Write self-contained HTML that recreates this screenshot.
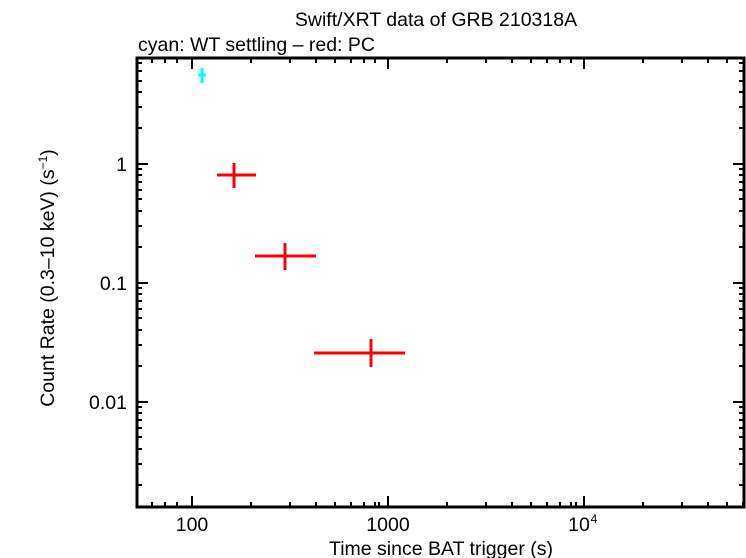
<!DOCTYPE html>
<html><head><style>body{margin:0;background:#fff}svg{display:block}text{font-family:"Liberation Sans",sans-serif}</style></head><body>
<svg width="746" height="558" xmlns="http://www.w3.org/2000/svg">
<rect width="746" height="558" fill="#fff"/>
<text x="436" y="26" font-size="19.5" text-anchor="middle">Swift/XRT data of GRB 210318A</text>
<text x="138" y="51" font-size="19.5">cyan: WT settling – red: PC</text>
<g stroke="#000" stroke-width="2">
<path d="M137,58H744V507H137Z" fill="none" stroke-width="3"/>
<path d="M192,507v-11M388,507v-11M584,507v-11M192,58v11M388,58v11M584,58v11"/>
<path d="M152,507v-5M165,507v-5M177,507v-5M251,507v-5M290,507v-5M316,507v-5M335,507v-5M351,507v-5M364,507v-5M375,507v-5M379,507v-5M447,507v-5M486,507v-5M512,507v-5M531,507v-5M547,507v-5M560,507v-5M571,507v-5M576,507v-5M643,507v-5M682,507v-5M708,507v-5M727,507v-5M743,507v-5"/>
<path d="M152,58v5M165,58v5M177,58v5M251,58v5M290,58v5M316,58v5M335,58v5M351,58v5M364,58v5M375,58v5M447,58v5M486,58v5M512,58v5M531,58v5M547,58v5M560,58v5M571,58v5M643,58v5M682,58v5M708,58v5M727,58v5"/>
<path d="M137,164h11M137,283h11M137,402h11M744,164h-11M744,283h-11M744,402h-11"/>
<path d="M137,128h5M137,107h5M137,92h5M137,81h5M137,71h5M137,63h5M137,247h5M137,226h5M137,211h5M137,199h5M137,190h5M137,182h5M137,175h5M137,169h5M137,366h5M137,345h5M137,330h5M137,318h5M137,309h5M137,301h5M137,294h5M137,288h5M137,485h5M137,464h5M137,449h5M137,437h5M137,428h5M137,420h5M137,413h5M137,407h5"/>
<path d="M744,128h-5M744,107h-5M744,92h-5M744,81h-5M744,71h-5M744,63h-5M744,247h-5M744,226h-5M744,211h-5M744,199h-5M744,190h-5M744,182h-5M744,175h-5M744,169h-5M744,366h-5M744,345h-5M744,330h-5M744,318h-5M744,309h-5M744,301h-5M744,294h-5M744,288h-5M744,485h-5M744,464h-5M744,449h-5M744,437h-5M744,428h-5M744,420h-5M744,413h-5M744,407h-5"/>
</g>
<g font-size="19.5" text-anchor="middle">
<text x="192" y="531">100</text><text x="388" y="531">1000</text><text x="579" y="531">10</text><text x="594" y="523" font-size="12">4</text>
<text x="441" y="555">Time since BAT trigger (s)</text>
</g>
<g font-size="19.5" text-anchor="end">
<text x="127" y="171">1</text><text x="127" y="290">0.1</text><text x="127" y="409">0.01</text>
</g>
<text transform="translate(54,278) rotate(-90)" font-size="19.5" text-anchor="middle">Count Rate (0.3–10 keV) (s<tspan font-size="12" dy="-7">−1</tspan><tspan dy="7">)</tspan></text>
<g stroke="#0ff" stroke-width="3"><path d="M198,75h8M202,68v15"/></g>
<g stroke="#f00" stroke-width="3">
<path d="M217,175h39M234,163v25"/>
<path d="M255,256h61M285,243v27"/>
<path d="M314,353h91M371,339v28"/>
</g>
</svg>
</body></html>
